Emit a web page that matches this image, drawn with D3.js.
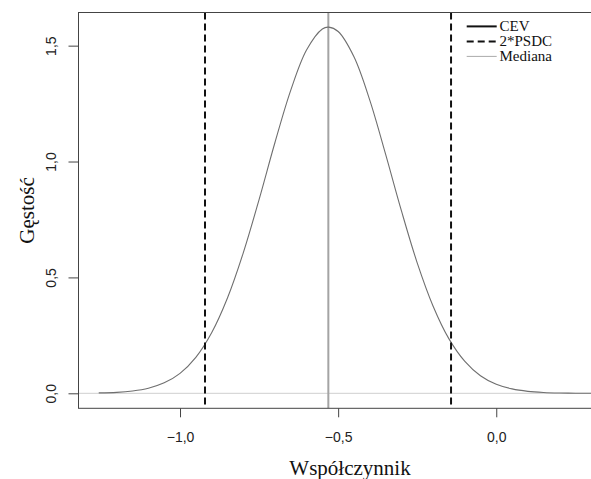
<!DOCTYPE html>
<html>
<head>
<meta charset="utf-8">
<script src="https://cdn.jsdelivr.net/npm/d3@7"></script>
<style>
  html, body { margin: 0; padding: 0; background: #fff; }
  svg { display: block; }
</style>
</head>
<body>
<svg id="chart" width="591" height="479"></svg>
<script>
// Density curve of the coefficient (x, density)
const curveX = [-1.257, -1.20, -1.15, -1.10, -1.05, -1.00, -0.95, -0.90, -0.85, -0.80,
                -0.75, -0.70, -0.65, -0.60, -0.55, -0.53, -0.50, -0.45, -0.40, -0.35,
                -0.30, -0.25, -0.20, -0.15, -0.10, -0.05, 0.00, 0.05, 0.10, 0.15,
                0.20, 0.25, 0.30, 0.332];
const curveY = [0.002, 0.004, 0.010, 0.022, 0.045, 0.086, 0.155, 0.261, 0.411, 0.606,
                0.836, 1.081, 1.307, 1.481, 1.572, 1.580, 1.561, 1.452, 1.265, 1.032,
                0.788, 0.563, 0.377, 0.236, 0.139, 0.076, 0.039, 0.019, 0.0085, 0.0036,
                0.0014, 0.0005, 0.0002, 0.0001];

// Reference lines: CEV bounds (2*PSDC) and median
const psdcBounds = [-0.921, -0.143];
const medianValue = -0.531;

// Axis ticks
const xTicks = [-1.0, -0.5, 0.0];
const xTickLabels = ["\u22121,0", "\u22120,5", "0,0"];
const yTicks = [0.0, 0.5, 1.0, 1.5];
const yTickLabels = ["0,0", "0,5", "1,0", "1,5"];

// Legend
const legendLabels = ["CEV", "2*PSDC", "Mediana"];

const xTitle = "Współczynnik";
const yTitle = "Gęstość";

const svg = d3.select("#chart");
const plot = { left: 78.5, right: 621.5, top: 12.5, bottom: 408.3 };

const x = d3.scaleLinear().domain([-1.321, 0.396]).range([plot.left, plot.right]);
const y = d3.scaleLinear().domain([-0.0647, 1.643]).range([plot.bottom, plot.top]);

const serif = "'Liberation Serif', 'Times New Roman', serif";
const sans = "'Liberation Sans', Arial, sans-serif";

svg.append("defs").append("clipPath").attr("id", "plotClip")
  .append("rect")
  .attr("x", plot.left).attr("y", plot.top)
  .attr("width", plot.right - plot.left).attr("height", plot.bottom - plot.top);

const inner = svg.append("g").attr("clip-path", "url(#plotClip)");

// zero line
inner.append("line")
  .attr("x1", plot.left).attr("x2", plot.right)
  .attr("y1", y(0)).attr("y2", y(0))
  .attr("stroke", "#cfcfcf").attr("stroke-width", 1);

// median line
inner.append("line")
  .attr("x1", x(medianValue)).attr("x2", x(medianValue))
  .attr("y1", plot.top).attr("y2", plot.bottom)
  .attr("stroke", "#a4a4a4").attr("stroke-width", 2);

// density curve
const pts = curveX.map((v, i) => [v, curveY[i]]);
inner.append("path")
  .datum(pts)
  .attr("fill", "none")
  .attr("stroke", "#6f6f6f")
  .attr("stroke-width", 1.1)
  .attr("d", d3.line().x(d => x(d[0])).y(d => y(d[1])).curve(d3.curveCatmullRom.alpha(0.5)));

// 2*PSDC dashed bounds
inner.selectAll("line.bound")
  .data(psdcBounds)
  .join("line")
  .attr("class", "bound")
  .attr("x1", d => x(d)).attr("x2", d => x(d))
  .attr("y1", plot.top).attr("y2", plot.bottom)
  .attr("stroke", "#111").attr("stroke-width", 2)
  .attr("stroke-dasharray", "7,4");

// frame
svg.append("rect")
  .attr("x", plot.left).attr("y", plot.top)
  .attr("width", plot.right - plot.left).attr("height", plot.bottom - plot.top)
  .attr("fill", "none").attr("stroke", "#444").attr("stroke-width", 1);

// x axis
const xAxis = d3.axisBottom(x)
  .tickValues(xTicks)
  .tickFormat((d, i) => xTickLabels[i])
  .tickSize(9)
  .tickPadding(14);
const gx = svg.append("g").attr("transform", `translate(0,${plot.bottom})`).call(xAxis);
gx.select(".domain").remove();
gx.selectAll(".tick line").attr("stroke", "#444");
gx.selectAll(".tick text")
  .attr("font-family", sans).attr("font-size", 14).attr("fill", "#222")
  .attr("dy", null).attr("y", 33.4);

// y axis
const yAxis = d3.axisLeft(y)
  .tickValues(yTicks)
  .tickFormat((d, i) => yTickLabels[i])
  .tickSize(10);
const gy = svg.append("g").attr("transform", `translate(${plot.left},0)`).call(yAxis);
gy.select(".domain").remove();
gy.selectAll(".tick line").attr("stroke", "#444");
gy.selectAll(".tick text")
  .attr("font-family", sans).attr("font-size", 14).attr("fill", "#222")
  .attr("x", null).attr("dy", null)
  .attr("text-anchor", "middle")
  .attr("transform", "translate(-22.5,0) rotate(-90)");

// axis titles
svg.append("text")
  .attr("x", (plot.left + plot.right) / 2).attr("y", 475)
  .attr("text-anchor", "middle")
  .attr("font-family", serif).attr("font-size", 21).attr("fill", "#111")
  .text(xTitle);

svg.append("text")
  .attr("transform", `translate(34,${(plot.top + plot.bottom) / 2}) rotate(-90)`)
  .attr("text-anchor", "middle")
  .attr("font-family", serif).attr("font-size", 21).attr("fill", "#111")
  .text(yTitle);

// legend
const legendStyles = [
  { stroke: "#111", width: 2, dash: null },
  { stroke: "#111", width: 2, dash: "7,4" },
  { stroke: "#aaa", width: 1, dash: null }
];
const lg = svg.append("g").attr("transform", "translate(466.7,26.4)");
legendLabels.forEach((lab, i) => {
  const row = lg.append("g").attr("transform", `translate(0,${i * 15})`);
  row.append("line")
    .attr("x1", 0).attr("x2", 30).attr("y1", 0).attr("y2", 0)
    .attr("stroke", legendStyles[i].stroke)
    .attr("stroke-width", legendStyles[i].width)
    .attr("stroke-dasharray", legendStyles[i].dash);
  row.append("text")
    .attr("x", 32.8).attr("y", 4.5)
    .attr("font-family", serif).attr("font-size", 15).attr("fill", "#111")
    .text(lab);
});
</script>
</body>
</html>
